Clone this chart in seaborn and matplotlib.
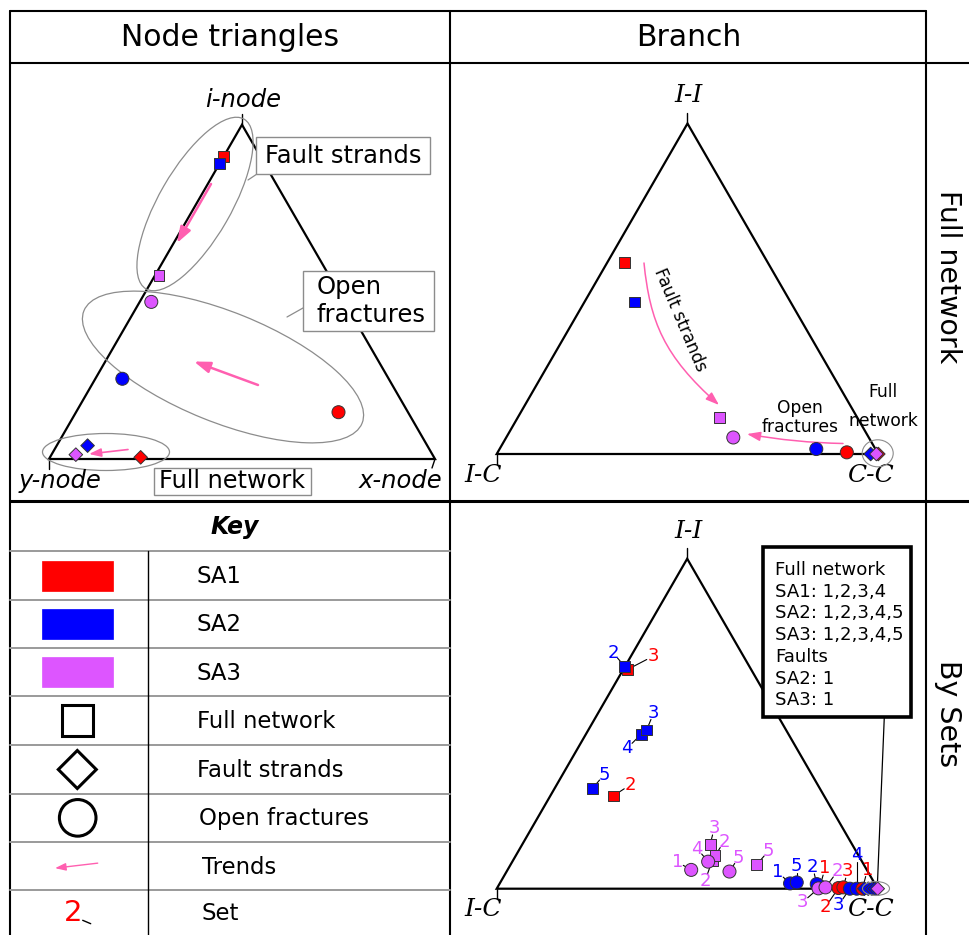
import numpy as np
import pandas as pd
import matplotlib
matplotlib.use("Agg")
import matplotlib.pyplot as plt
import seaborn as sns
from matplotlib.patches import Ellipse, Rectangle, Polygon, Circle, FancyArrowPatch
from matplotlib.path import Path

# ---------------------------------------------------------------- data
SET_NAMES = ["SA1", "SA2", "SA3"]
SET_COLORS = {"SA1": "#ff0000", "SA2": "#0000ff", "SA3": "#dd55ff"}
KIND_MARKERS = {"Full network": "s", "Fault strands": "D", "Open fractures": "o"}

# Node triangle (full network): fraction of i-nodes and x-nodes, rest are y-nodes
NODE_SET = ["SA1", "SA2", "SA3", "SA1", "SA2", "SA3", "SA1", "SA2", "SA3"]
NODE_KIND = ["Full network"] * 3 + ["Open fractures"] * 3 + ["Fault strands"] * 3
NODE_I = [0.905, 0.885, 0.55, 0.14, 0.24, 0.47, 0.005, 0.04, 0.013]
NODE_X = [0.0, 0.0, 0.01, 0.68, 0.07, 0.03, 0.235, 0.08, 0.063]

# Branch triangle (full network): fraction of I-I and C-C branches, rest are I-C
BR_SET = ["SA1", "SA2", "SA3", "SA1", "SA2", "SA3", "SA1", "SA2", "SA3"]
BR_KIND = ["Full network"] * 3 + ["Open fractures"] * 3 + ["Fault strands"] * 3
BR_II = [0.58, 0.46, 0.11, 0.005, 0.015, 0.05, 0.0, 0.0, 0.0]
BR_CC = [0.045, 0.13, 0.53, 0.915, 0.83, 0.595, 1.0, 0.98, 0.995]

# Branch triangle, one point per fracture set
SETS_SET = ["SA1", "SA2", "SA2", "SA2", "SA2", "SA1", "SA3", "SA3", "SA3", "SA3",
            "SA3", "SA3", "SA3", "SA2", "SA2", "SA1", "SA2", "SA3", "SA3", "SA1",
            "SA1", "SA2", "SA2", "SA1",
            "SA2", "SA2", "SA2", "SA2", "SA3"]
SETS_NUM = ["3", "2", "4", "3", "5", "2", "3", "2", "2", "5",
            "1", "4", "5", "1", "5", "1", "2", "3", "2", "2",
            "3", "3", "4", "1",
            "", "", "", "", ""]
SETS_KIND = ["Full network"] * 10 + ["Open fractures"] * 14 + ["Fault strands"] * 5
SETS_II = [0.665, 0.673, 0.468, 0.481, 0.303, 0.281, 0.135, 0.085, 0.10, 0.073,
           0.057, 0.082, 0.052, 0.016, 0.019, 0.007, 0.014, 0.001, 0.004, 0.002,
           0.004, 0.0, 0.0, 0.0,
           0.0, 0.0, 0.0, 0.0, 0.0]
SETS_CC = [0.012, 0.0, 0.145, 0.153, 0.099, 0.165, 0.493, 0.523, 0.523, 0.646,
           0.482, 0.514, 0.585, 0.762, 0.778, 0.845, 0.833, 0.844, 0.861, 0.896,
           0.908, 0.927, 0.945, 0.96,
           0.965, 0.975, 0.985, 0.993, 1.0]

INFO_LINES = ["Full network", "SA1: 1,2,3,4", "SA2: 1,2,3,4,5", "SA3: 1,2,3,4,5",
              "Faults", "SA2: 1", "SA3: 1"]

KEY_LABELS = ["SA1", "SA2", "SA3", "Full network", "Fault strands",
              "Open fractures", "Trends", "Set"]

# ---------------------------------------------------------------- layout
W, H = 969, 935
PINK = "#ff5fb0"
GREY = "#8c8c8c"
SQ3 = np.sqrt(3) / 2

# (left vertex, side length) of each triangle in canvas pixels
NODE_TRI = ((49.0, 459.0), 386.0)
BR_TRI = ((496.7, 454.0), 381.6)
SETS_TRI = ((496.7, 888.7), 381.0)

# label offsets (pixels) of the set numbers in the "By Sets" panel
SETS_LABEL_OFFSET = [(25, -13), (-12, -14), (-14, 14), (7, -17), (12, -14), (17, -11),
                     (4, -16), (-7, 20), (9, -14), (12, -14),
                     (-14, -8), (-11, -13), (9, -14), (-12, -11), (0, -16), (5, -18),
                     (-4, -17), (-16, 14), (12, -16), (-13, 19), (4, -16), (-11, 16),
                     (0, -34), (5, -19),
                     (0, 0), (0, 0), (0, 0), (0, 0), (0, 0)]

KIND_SIZE = {"Full network": 62, "Fault strands": 48, "Open fractures": 88}


def tri_xy(tri, top, right):
    (x0, y0), side = tri
    top = np.asarray(top, float)
    right = np.asarray(right, float)
    return x0 + side * (right + top / 2), y0 - side * top * SQ3


def draw_triangle(ax, tri, ticks=("top", "left")):
    (x0, y0), side = tri
    apex = (x0 + side / 2, y0 - side * SQ3)
    ax.add_patch(Polygon([(x0, y0), (x0 + side, y0), apex], closed=True,
                         fill=False, ec="black", lw=1.6, zorder=2))
    if "top" in ticks:
        ax.plot([apex[0], apex[0]], [apex[1], apex[1] - 11], color="black", lw=1.0, zorder=2)
    if "left" in ticks:
        ax.plot([x0, x0], [y0, y0 + 10], color="black", lw=1.0, zorder=2)
    if "right" in ticks:
        ax.plot([x0 + side, x0 + side - 3], [y0, y0 + 9], color="black", lw=1.0, zorder=2)


def scatter_panel(ax, x, y, sets, kinds):
    df = pd.DataFrame({"x": x, "y": y, "set": sets, "kind": kinds})
    for kind in ["Full network", "Open fractures", "Fault strands"]:
        sub = df[df["kind"] == kind]
        if sub.empty:
            continue
        sns.scatterplot(data=sub, x="x", y="y", hue="set", palette=SET_COLORS,
                        marker=KIND_MARKERS[kind], s=KIND_SIZE[kind],
                        edgecolor="#333333", linewidth=0.7, legend=False,
                        ax=ax, zorder=4)
    return df


def arrow(ax, a, b, lw=1.6, scale=12, rad=0.0):
    ax.add_patch(FancyArrowPatch(a, b, arrowstyle="-|>,head_length=0.8,head_width=0.28",
                                 connectionstyle=f"arc3,rad={rad}", mutation_scale=scale,
                                 color=PINK, lw=lw, zorder=3, shrinkA=0, shrinkB=0))


# ---------------------------------------------------------------- figure
sns.set_theme(style="white")
plt.rcParams["font.family"] = ["DejaVu Sans"]
plt.rcParams["text.color"] = "black"

fig = plt.figure(figsize=(W / 100, H / 100), dpi=100)
ax = fig.add_axes([0, 0, 1, 1])
ax.set_xlim(0, W)
ax.set_ylim(H, 0)
ax.axis("off")

# table frame
LW = 1.5
ax.plot([10, 926], [11, 11], color="black", lw=LW)
ax.plot([10, W], [63, 63], color="black", lw=LW)
ax.plot([10, W], [501, 501], color="black", lw=2.2)
for xv in (10, 450, 926):
    ax.plot([xv, xv], [11, H], color="black", lw=LW)

ax.text(230, 37, "Node triangles", fontsize=21.5, ha="center", va="center")
ax.text(689, 37, "Branch", fontsize=21.5, ha="center", va="center")
ax.text(948, 277, "Full network", fontsize=20.5, rotation=-90, ha="center", va="center")
ax.text(948, 714, "By Sets", fontsize=20.5, rotation=-90, ha="center", va="center")

# ------------------------------------------------ node triangle
draw_triangle(ax, NODE_TRI, ticks=("top", "left", "right"))
nx, ny = tri_xy(NODE_TRI, NODE_I, NODE_X)
scatter_panel(ax, nx, ny, NODE_SET, NODE_KIND)
ax.text(243, 100, "i-node", fontsize=17.5, style="italic", ha="center", va="center")
ax.text(60, 481, "y-node", fontsize=17.5, style="italic", ha="center", va="center")
ax.text(400, 481, "x-node", fontsize=17.5, style="italic", ha="center", va="center")

ax.add_patch(Ellipse((195, 204), 196, 72, angle=-60, fill=False, ec=GREY, lw=0.9, zorder=2))
ax.add_patch(Ellipse((223, 367), 300, 110, angle=22, fill=False, ec=GREY, lw=0.9, zorder=2))
ax.add_patch(Ellipse((106, 452), 127, 37, angle=0, fill=False, ec=GREY, lw=0.9, zorder=2))

arrow(ax, (211, 184), (177, 243), lw=1.8, scale=12)
arrow(ax, (258, 385), (194, 361.5), lw=1.8, scale=12)
arrow(ax, (128, 449.5), (89, 454), lw=1.2, scale=9)

ax.plot([248, 257], [180, 174], color=GREY, lw=0.9)
ax.plot([287, 303], [317, 308], color=GREY, lw=0.9)
ax.add_patch(Rectangle((256, 137), 174, 37, fill=True, fc="white", ec=GREY, lw=1.0, zorder=3))
ax.text(343, 156, "Fault strands", fontsize=17.5, ha="center", va="center", zorder=4)
ax.add_patch(Rectangle((303, 271), 131, 60, fill=True, fc="white", ec=GREY, lw=1.0, zorder=3))
ax.text(317, 287, "Open", fontsize=17.5, ha="left", va="center", zorder=4)
ax.text(317, 315, "fractures", fontsize=17.5, ha="left", va="center", zorder=4)
ax.add_patch(Rectangle((154, 468), 157, 27, fill=True, fc="white", ec=GREY, lw=1.0, zorder=3))
ax.text(232, 481.5, "Full network", fontsize=17.3, ha="center", va="center", zorder=4)

# ------------------------------------------------ branch triangle
SERIF = dict(family="DejaVu Serif", style="italic", fontsize=18, ha="center", va="center")
draw_triangle(ax, BR_TRI)
bx, by = tri_xy(BR_TRI, BR_II, BR_CC)
scatter_panel(ax, bx, by, BR_SET, BR_KIND)
ax.text(689, 96, "I-I", **SERIF)
ax.text(483, 475, "I-C", **SERIF)
ax.text(870, 475, "C-C", **SERIF)
ax.add_patch(Ellipse((877.7, 453.3), 31, 27, fill=False, ec=GREY, lw=0.8, zorder=5))

curve = Path([(644, 263), (650, 322), (664, 356), (719, 405)],
             [Path.MOVETO, Path.CURVE4, Path.CURVE4, Path.CURVE4])
ax.add_patch(FancyArrowPatch(path=curve, arrowstyle="-|>,head_length=0.8,head_width=0.28",
                             mutation_scale=10, color=PINK, lw=1.1, zorder=3))
ax.text(680, 320, "Fault strands", fontsize=12.3, rotation=-67, ha="center", va="center")
arrow(ax, (843, 443.5), (747, 434), lw=1.1, scale=10, rad=-0.04)
ax.text(800, 408, "Open", fontsize=12.3, ha="center", va="center")
ax.text(800, 426.5, "fractures", fontsize=12.3, ha="center", va="center")
ax.text(883, 392, "Full", fontsize=12.3, ha="center", va="center")
ax.text(883, 421, "network", fontsize=12.3, ha="center", va="center")

# ------------------------------------------------ by-sets triangle
draw_triangle(ax, SETS_TRI)
sx, sy = tri_xy(SETS_TRI, SETS_II, SETS_CC)
ax.text(689, 532, "I-I", **SERIF)
ax.text(483, 909, "I-C", **SERIF)
ax.text(870, 909, "C-C", **SERIF)

for px, py, sname, num, (dx, dy) in zip(sx, sy, SETS_SET, SETS_NUM, SETS_LABEL_OFFSET):
    if not num:
        continue
    lx, ly = px + dx, py + dy
    d = np.hypot(dx, dy)
    ex, ey = lx - dx / d * 7, ly - dy / d * 7
    ax.plot([px, ex], [py, ey], color="black", lw=0.8, zorder=3)
    ax.text(lx, ly, num, color=SET_COLORS[sname], fontsize=13, ha="center",
            va="center", zorder=6)

scatter_panel(ax, sx, sy, SETS_SET, SETS_KIND)
ax.add_patch(Ellipse((876, 888.5), 27, 14, fill=False, ec=GREY, lw=0.8, zorder=5))

ax.plot([884.3, 877.5], [717, 882], color="black", lw=0.9, zorder=3)
ax.add_patch(Rectangle((762.7, 546.7), 148, 170.6, fc="white", ec="black", lw=2.6, zorder=5))
for i, line in enumerate(INFO_LINES):
    ax.text(775, 570 + i * 21.7, line, fontsize=13.1, ha="left", va="center", zorder=6)

# ------------------------------------------------ key
ax.text(235, 527, "Key", fontsize=17, fontweight="bold", style="italic",
        ha="center", va="center")
row_lines = [551.3, 599.7, 648.0, 696.3, 745.3, 793.7, 842.0, 890.3]
for yl in row_lines:
    ax.plot([10, 450], [yl, yl], color="#9a9a9a", lw=1.4)
ax.plot([147.7, 147.7], [551.3, H], color="black", lw=1.0)
centers = [(a + b) / 2 for a, b in zip(row_lines, row_lines[1:] + [935.0])]
centers[-1] = 913

for yc, sname in zip(centers[:3], SET_NAMES):
    ax.add_patch(Rectangle((42.3, yc - 15), 71, 30, fc=SET_COLORS[sname],
                           ec=SET_COLORS[sname], lw=0.5))
ax.add_patch(Rectangle((77.7 - 15.5, centers[3] - 15.5), 31, 31, fill=False, ec="black", lw=2.2))
cx, cy = 77.3, centers[4]
ax.add_patch(Polygon([(cx, cy - 19), (cx + 19, cy), (cx, cy + 19), (cx - 19, cy)],
                     closed=True, fill=False, ec="black", lw=2.2))
ax.add_patch(Circle((77.7, centers[5]), 18.3, fill=False, ec="black", lw=2.2))
arrow(ax, (97.7, centers[6] - 3), (55, centers[6] + 2), lw=1.0, scale=8)
ax.text(72.7, centers[7], "2", color="#ff0000", fontsize=21, ha="center", va="center")
ax.plot([82.7, 90.7], [920.3, 923.7], color="black", lw=1.0)

key_x = [196.7, 196.7, 197, 197, 196.7, 199, 202, 202]
for xk, yc, lab in zip(key_x, centers, KEY_LABELS):
    ax.text(xk, yc + 1, lab, fontsize=16.4, ha="left", va="center")

fig.savefig("out.png", dpi=100)
